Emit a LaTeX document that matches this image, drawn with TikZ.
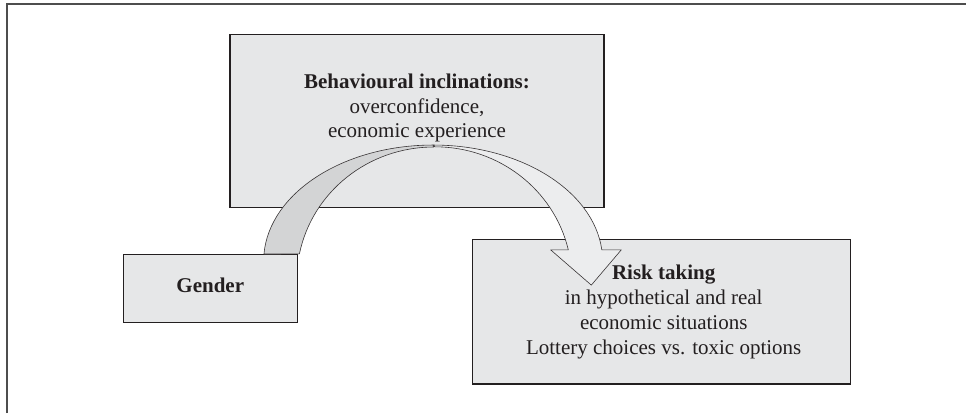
\documentclass[tikz,border=0pt]{standalone}
\usepackage{fontspec}
\setmainfont{Liberation Serif}
\usetikzlibrary{calc}
\definecolor{boxfill}{HTML}{E6E7E8}
\definecolor{ink}{HTML}{231F20}
\definecolor{ribbondark}{HTML}{D3D4D5}
\definecolor{ribbonlight}{HTML}{ECEDEE}
\definecolor{framegray}{HTML}{4D4D4D}
\begin{document}
\begin{tikzpicture}[x=1pt,y=1pt,
  panel/.style={draw=ink, line width=1.3pt, fill=boxfill, inner sep=0pt},
  ln/.style={anchor=base, inner sep=0pt, text=ink, font=\fontsize{21}{25}\selectfont},
  lnb/.style={ln, font=\fontsize{21}{25}\selectfont\bfseries},
  ribbon/.style={draw=ink!90, line width=0.6pt, line join=round}]
\useasboundingbox (0,0) rectangle (966,413);

% page frame (top and left rules)
\draw[framegray, line width=1.6pt] (7,0) -- (7,409) -- (966,409);

% boxes
\node[panel, minimum width=374pt, minimum height=172.6pt] (incl) at (417,292) {};
\node[panel, minimum width=174.4pt, minimum height=68pt] (gender) at (210.5,124.3) {};
\node[panel, minimum width=378pt, minimum height=144.7pt] (risk) at (661.3,101.35) {};

% curved ribbon arrow: rising (shaded) half
\path[ribbon, fill=ribbondark]
  ($(gender.north east)+(-34.4,0)$)
  arc[start angle=176.5, end angle=90, x radius=169.5pt, y radius=116.1pt]
  coordinate (otop)
  -- ++(0.5,-2)
  arc[start angle=90, end angle=168.65, x radius=136.9pt, y radius=133.1pt]
  -- cycle;
% descending (light) half with the arrowhead
\path[ribbon, fill=ribbonlight]
  (otop)
  arc[start angle=90, end angle=5.6, x radius=169.5pt, y radius=116.1pt]
  coordinate (oend)
  -- ++(19.5,0) coordinate (headr)
  -- ++(-30,-35.3) coordinate (tip)
  -- ++(-40.7,35.3) coordinate (headl)
  -- ++(17.7,0) coordinate (iend)
  arc[start angle=13.07, end angle=90, x radius=136.9pt, y radius=133.1pt]
  -- cycle;

% texts
\node[lnb] (t1) at (417,324.7) {Behavioural inclinations:};
\node[ln]  (t2) at (417,299.7) {overconfidence,};
\node[ln]  (t3) at (417,275.7) {economic experience};

\node[lnb] (g1) at (210.3,120.7) {Gender};

\node[lnb] (r1) at (663.7,134) {Risk taking};
\node[ln]  (r2) at (663.7,108.7) {in hypothetical and real};
\node[ln]  (r3) at (663.7,84) {economic situations};
\node[ln]  (r4) at (663.7,58.7) {Lottery choices vs. toxic options};
\end{tikzpicture}
\end{document}
